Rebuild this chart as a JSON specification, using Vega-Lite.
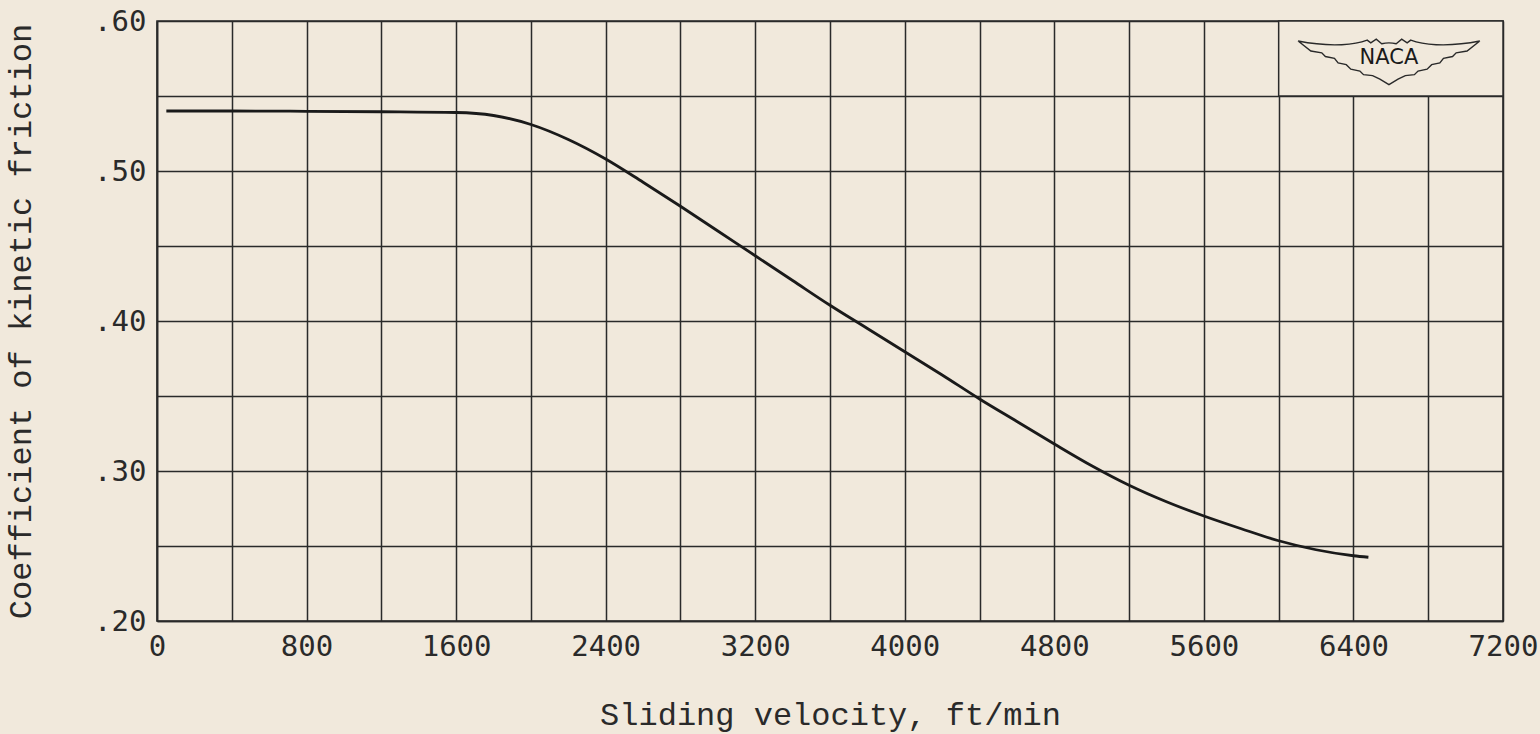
{
  "$schema": "https://vega.github.io/schema/vega-lite/v6.json",
  "width": 1346,
  "height": 600,
  "autosize": {"type": "none"},
  "padding": {"left": 157, "top": 21, "right": 37, "bottom": 113},
  "background": "#f1e9dc",
  "config": {
    "view": {"stroke": "#2a2a2a", "strokeWidth": 1.6},
    "axis": {
      "gridColor": "#2a2a2a",
      "gridWidth": 1.5,
      "gridOpacity": 1,
      "domainColor": "#2a2a2a",
      "domainWidth": 1.6,
      "ticks": false,
      "labelFont": "DejaVu Sans Mono",
      "labelFontSize": 29,
      "labelColor": "#2a2a2a",
      "titleFont": "Liberation Mono",
      "titleFontSize": 32,
      "titleFontWeight": "normal",
      "titleColor": "#2a2a2a"
    }
  },
  "datasets": {
    "curve": [
      {"v": 50, "f": 0.540},
      {"v": 400, "f": 0.540},
      {"v": 800, "f": 0.5398},
      {"v": 1200, "f": 0.5395},
      {"v": 1600, "f": 0.539},
      {"v": 1800, "f": 0.537},
      {"v": 2000, "f": 0.531},
      {"v": 2200, "f": 0.521},
      {"v": 2400, "f": 0.508},
      {"v": 2600, "f": 0.4925},
      {"v": 2800, "f": 0.4765},
      {"v": 3000, "f": 0.460},
      {"v": 3200, "f": 0.4435},
      {"v": 3400, "f": 0.427},
      {"v": 3600, "f": 0.4105},
      {"v": 3800, "f": 0.395},
      {"v": 4000, "f": 0.3795},
      {"v": 4200, "f": 0.364},
      {"v": 4400, "f": 0.348},
      {"v": 4600, "f": 0.333},
      {"v": 4800, "f": 0.318},
      {"v": 5000, "f": 0.3035},
      {"v": 5200, "f": 0.2905},
      {"v": 5400, "f": 0.2795},
      {"v": 5600, "f": 0.270},
      {"v": 5800, "f": 0.2615},
      {"v": 6000, "f": 0.2535},
      {"v": 6200, "f": 0.2475},
      {"v": 6400, "f": 0.2435},
      {"v": 6480, "f": 0.2425}
    ],
    "logo": [
      {"x1": 6000, "x2": 7200, "y1": 0.55, "y2": 0.60, "cx": 6590, "cy": 0.5727, "ty": 0.5755, "label": "NACA"}
    ]
  },
  "layer": [
    {
      "data": {"name": "curve"},
      "mark": {"type": "line", "interpolate": "monotone", "color": "#1a1a1a", "strokeWidth": 2.8},
      "encoding": {
        "x": {
          "field": "v", "type": "quantitative",
          "scale": {"domain": [0, 7200], "nice": false},
          "axis": {
            "values": [0,400,800,1200,1600,2000,2400,2800,3200,3600,4000,4400,4800,5200,5600,6000,6400,6800,7200],
            "format": "d",
            "labelExpr": "datum.value % 800 == 0 ? datum.label : ''",
            "labelPadding": 11,
            "labelFlush": false,
            "labelOverlap": false,
            "title": "Sliding velocity, ft/min",
            "titleY": 103,
            "titleBaseline": "alphabetic"
          }
        },
        "y": {
          "field": "f", "type": "quantitative",
          "scale": {"domain": [0.2, 0.6], "nice": false, "zero": false},
          "axis": {
            "values": [0.2,0.25,0.3,0.35,0.4,0.45,0.5,0.55,0.6],
            "labelExpr": "(round(datum.value*100) % 10 == 0) ? replace(format(datum.value, '.2f'), '0.', '.') : ''",
            "labelPadding": 11,
            "labelFlush": false,
            "labelOverlap": false,
            "title": "Coefficient of kinetic friction",
            "titleX": -137,
            "titleY": 300,
            "titleAngle": -90,
            "titleAlign": "center",
            "titleBaseline": "middle"
          }
        }
      }
    },
    {
      "data": {"name": "logo"},
      "mark": {"type": "rect", "fill": "#f1e9dc", "stroke": "#2a2a2a", "strokeWidth": 1.5},
      "encoding": {
        "x": {"field": "x1", "type": "quantitative"},
        "x2": {"field": "x2"},
        "y": {"field": "y1", "type": "quantitative"},
        "y2": {"field": "y2"}
      }
    },
    {
      "data": {"name": "logo"},
      "mark": {
        "type": "point",
        "shape": "M -1 -0.23 Q -0.75 -0.18 -0.52 -0.19 Q -0.35 -0.2 -0.24 -0.24 L -0.2 -0.21 L -0.14 -0.25 L -0.08 -0.2 Q 0 -0.22 0.08 -0.2 L 0.14 -0.25 L 0.2 -0.21 L 0.24 -0.24 Q 0.35 -0.2 0.52 -0.19 Q 0.75 -0.18 1 -0.23 L 0.86 -0.12 L 0.74 -0.1 L 0.7 -0.06 L 0.6 -0.04 L 0.56 0.01 L 0.47 0.03 L 0.42 0.08 L 0.32 0.1 L 0.28 0.14 L 0.18 0.15 L 0.1 0.19 L 0 0.25 L -0.1 0.19 L -0.18 0.15 L -0.28 0.14 L -0.32 0.1 L -0.42 0.08 L -0.47 0.03 L -0.56 0.01 L -0.6 -0.04 L -0.7 -0.06 L -0.74 -0.1 L -0.86 -0.12 Z",
        "size": 33000,
        "filled": false,
        "stroke": "#2a2a2a",
        "strokeWidth": 1.4,
        "opacity": 1
      },
      "encoding": {
        "x": {"field": "cx", "type": "quantitative"},
        "y": {"field": "cy", "type": "quantitative"}
      }
    },
    {
      "data": {"name": "logo"},
      "mark": {"type": "text", "font": "DejaVu Sans", "fontSize": 21, "fontWeight": "normal", "color": "#1a1a1a", "baseline": "middle", "align": "center"},
      "encoding": {
        "x": {"field": "cx", "type": "quantitative"},
        "y": {"field": "ty", "type": "quantitative"},
        "text": {"field": "label"}
      }
    }
  ]
}
